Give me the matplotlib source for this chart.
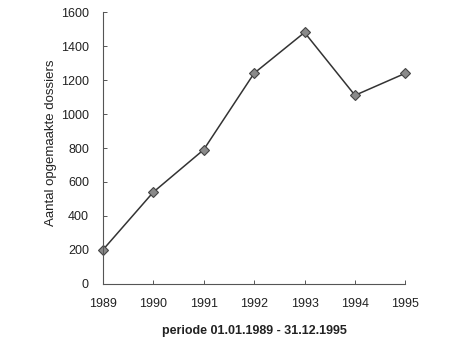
import matplotlib
matplotlib.use('Agg')
import matplotlib.pyplot as plt

# aantal opgemaakte dossiers per jaar
jaren = [1989, 1990, 1991, 1992, 1993, 1994, 1995]
dossiers = [200, 540, 790, 1240, 1480, 1110, 1240]

plt.rcParams['font.family'] = ['Liberation Sans', 'DejaVu Sans']

fig = plt.figure(figsize=(4.55, 3.45), dpi=100)
ax = fig.add_axes([0.226, 0.177, 0.665, 0.788])

ax.plot(jaren, dossiers, color='#333333', linewidth=1.1,
        marker='D', markersize=5, markerfacecolor='#8a8a8a',
        markeredgecolor='#444444', markeredgewidth=0.8, clip_on=False)

ax.set_xlim(1989, 1995)
ax.set_ylim(0, 1600)
ax.set_xticks(jaren)
ax.set_yticks(range(0, 1601, 200))

for side in ['top', 'right']:
    ax.spines[side].set_visible(False)
for side in ['left', 'bottom']:
    ax.spines[side].set_color('#555555')
    ax.spines[side].set_linewidth(0.8)

ax.tick_params(axis='both', labelsize=9, color='#555555', length=3,
               width=0.7, direction='in', labelcolor='#222222')
ax.tick_params(axis='x', pad=10)
ax.tick_params(axis='y', pad=10)

ax.set_ylabel('Aantal opgemaakte dossiers', fontsize=9.5, color='#222222')
ax.yaxis.set_label_coords(-0.15, 0.52)
ax.set_xlabel('periode 01.01.1989 - 31.12.1995', fontsize=9,
              fontweight='bold', color='#222222')
ax.xaxis.set_label_coords(0.5, -0.15)

fig.savefig('out.png', dpi=100)
